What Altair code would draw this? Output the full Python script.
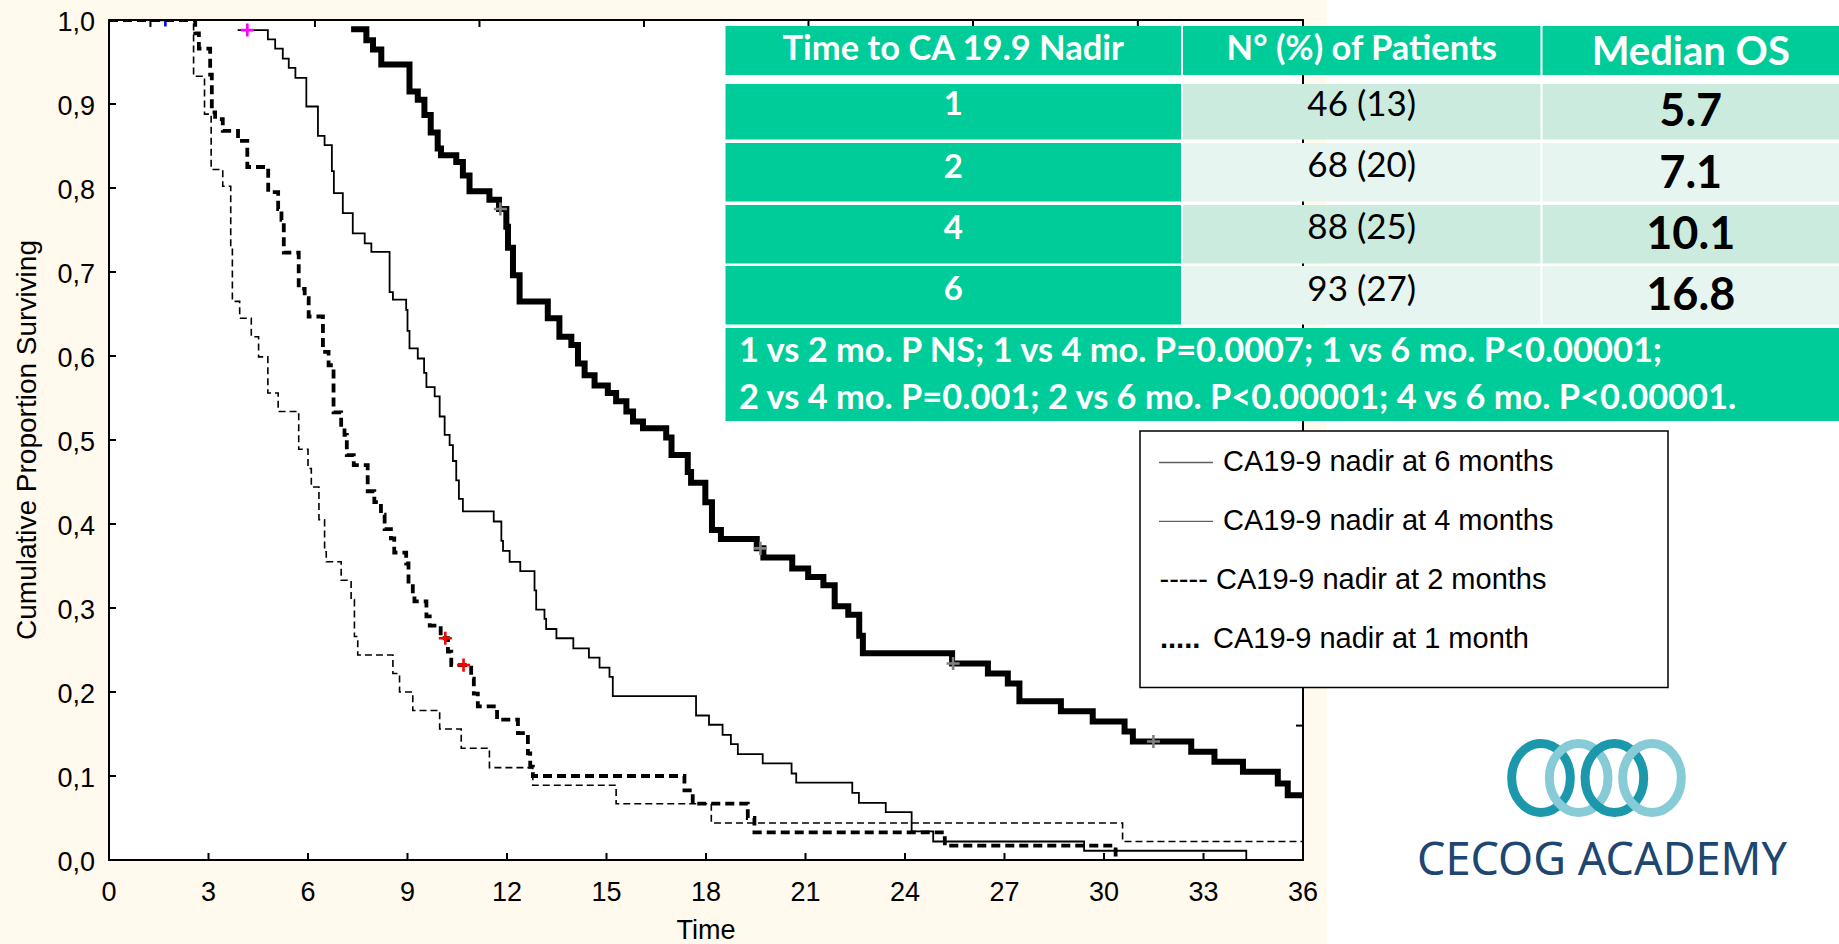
import altair as alt
import pandas as pd

# ---------------- data ----------------
# Kaplan-Meier curves: time (months) where the step starts, cumulative proportion surviving
t_6m = [7.30, 7.76, 7.96, 8.21, 9.06, 9.31, 9.51, 9.70, 9.91, 10.01, 10.47, 10.67, 10.87, 11.47, 11.76,
        11.98, 12.03, 12.18, 12.38, 13.23, 13.58, 13.94, 14.14, 14.34, 14.64, 15.04, 15.29, 15.60, 15.80,
        16.10, 16.80, 16.96, 17.45, 17.55, 17.98, 18.18, 18.45, 19.53, 19.73, 20.60, 21.08, 21.54, 21.88,
        22.29, 22.62, 22.73, 25.42, 26.50, 27.10, 27.45, 28.70, 29.66, 30.62, 30.87, 32.63, 33.33, 34.19,
        35.24, 35.54, 36.00]
s_6m = [0.989, 0.976, 0.965, 0.947, 0.915, 0.905, 0.887, 0.866, 0.847, 0.839, 0.831, 0.815, 0.796, 0.786, 0.775,
        0.754, 0.729, 0.696, 0.665, 0.645, 0.623, 0.613, 0.591, 0.577, 0.565, 0.556, 0.546, 0.534, 0.522,
        0.514, 0.503, 0.482, 0.462, 0.449, 0.426, 0.393, 0.382, 0.371, 0.360, 0.347, 0.337, 0.327, 0.302,
        0.292, 0.267, 0.246, 0.234, 0.222, 0.210, 0.189, 0.177, 0.165, 0.153, 0.141, 0.129, 0.117, 0.105,
        0.091, 0.077, 0.077]

t_4m = [3.88, 4.79, 5.01, 5.24, 5.42, 5.62, 5.95, 6.30, 6.50, 6.72, 6.78, 7.05, 7.35, 7.71, 7.91,
        8.46, 8.56, 8.96, 9.00, 9.06, 9.31, 9.50, 9.57, 9.82, 9.97, 10.12, 10.27, 10.37, 10.47, 10.55,
        10.67, 11.60, 11.83, 11.88, 12.08, 12.40, 12.83, 12.88, 13.13, 13.18, 13.49, 14.00, 14.47, 14.79,
        15.09, 15.19, 17.70, 18.09, 18.50, 18.75, 18.96, 19.71, 20.58, 20.72, 22.41, 22.61, 23.42, 24.20,
        24.85, 29.40, 34.29]
s_4m = [0.988, 0.977, 0.966, 0.954, 0.943, 0.931, 0.897, 0.862, 0.851, 0.820, 0.794, 0.770, 0.746, 0.734, 0.724,
        0.676, 0.667, 0.655, 0.630, 0.609, 0.597, 0.580, 0.563, 0.552, 0.528, 0.506, 0.494, 0.475, 0.452, 0.430,
        0.415, 0.403, 0.380, 0.368, 0.355, 0.344, 0.321, 0.298, 0.287, 0.275, 0.264, 0.252, 0.241, 0.229,
        0.218, 0.195, 0.172, 0.161, 0.149, 0.138, 0.126, 0.115, 0.103, 0.092, 0.080, 0.068, 0.057, 0.034,
        0.022, 0.011, 0.000]

t_2m = [0.00, 2.55, 2.88, 3.08, 3.43, 3.67, 3.72, 3.94, 4.29, 4.51, 4.79, 5.10, 5.72, 6.00, 6.10, 6.33,
        6.50, 6.55, 7.00, 7.30, 7.40, 7.50, 8.56, 8.76, 9.16, 9.97, 10.62, 11.47, 12.78, 15.29, 18.16,
        30.56, 36.00]
s_2m = [1.000, 0.933, 0.888, 0.822, 0.802, 0.730, 0.665, 0.645, 0.623, 0.599, 0.556, 0.534, 0.489, 0.466,
        0.444, 0.405, 0.367, 0.355, 0.333, 0.310, 0.266, 0.244, 0.222, 0.200, 0.178, 0.156, 0.133, 0.110,
        0.089, 0.067, 0.044, 0.022, 0.022]

t_1m = [0.00, 2.60, 2.71, 3.05, 3.10, 3.20, 3.43, 3.89, 4.17, 4.80, 5.10, 5.20, 5.27, 5.72, 5.90, 6.02,
        6.45, 6.62, 6.77, 7.00, 7.10, 7.17, 7.38, 7.80, 8.00, 8.20, 8.31, 8.50, 8.60, 8.96, 9.03, 9.16,
        9.21, 9.57, 9.67, 10.00, 10.22, 10.32, 10.92, 11.00, 11.12, 11.70, 12.33, 12.63, 12.70, 12.78,
        17.35, 17.60, 19.26, 19.46, 25.20, 30.35]
s_1m = [1.000, 0.984, 0.966, 0.935, 0.890, 0.882, 0.868, 0.856, 0.825, 0.795, 0.775, 0.762, 0.723, 0.680,
        0.669, 0.647, 0.605, 0.589, 0.533, 0.514, 0.506, 0.482, 0.470, 0.439, 0.426, 0.411, 0.394, 0.383,
        0.366, 0.353, 0.329, 0.315, 0.308, 0.290, 0.279, 0.264, 0.248, 0.232, 0.216, 0.198, 0.183, 0.167,
        0.151, 0.127, 0.111, 0.100, 0.083, 0.067, 0.050, 0.033, 0.017, 0.000]

# censored observations ("+")
censor_t = [11.80, 19.64, 25.45, 31.49, 10.14, 10.69, 4.17, 1.70]
censor_s = [0.775, 0.371, 0.234, 0.141, 0.264, 0.232, 0.988, 1.000]
censor_curve = ["6m", "6m", "6m", "6m", "1m", "1m", "4m", "2m"]

# axes
x_ticks = [0, 3, 6, 9, 12, 15, 18, 21, 24, 27, 30, 33, 36]
x_tick_labels = ["0", "3", "6", "9", "12", "15", "18", "21", "24", "27", "30", "33", "36"]
y_ticks = [0.0, 0.1, 0.2, 0.3, 0.4, 0.5, 0.6, 0.7, 0.8, 0.9, 1.0]
y_tick_labels = ["0,0", "0,1", "0,2", "0,3", "0,4", "0,5", "0,6", "0,7", "0,8", "0,9", "1,0"]
top_ticks = [1.25, 6.21, 11.17, 16.13, 21.09, 26.05, 31.02]
right_ticks = [0.16]
x_title = "Time"
y_title = "Cumulative Proportion Surviving"

# table
table_header = ["Time to CA 19.9 Nadir", "N° (%) of Patients", "Median OS"]
nadir_month = ["1", "2", "4", "6"]
patients = ["46 (13)", "68 (20)", "88 (25)", "93 (27)"]
median_os = ["5.7", "7.1", "10.1", "16.8"]
footnote = ["1 vs 2 mo. P NS; 1 vs 4 mo. P=0.0007; 1 vs 6 mo. P<0.00001;",
            "2 vs 4 mo. P=0.001; 2 vs 6 mo. P<0.00001; 4 vs 6 mo. P<0.00001."]

# legend
legend_labels = ["CA19-9 nadir at 6 months", "CA19-9 nadir at 4 months",
                 "CA19-9 nadir at 2 months", "CA19-9 nadir at 1 month"]
legend_marks = ["", "", "-----", "....."]
logo_text = "CECOG ACADEMY"

# ---------------- layout (page pixels) ----------------
PAGE_W, PAGE_H = 1839, 944
OX, OY = 109, 20
W, H = 1194, 840


def gx(x):
    return x - OX


def gy(y):
    return y - OY


xs = alt.Scale(domain=[0, 36], nice=False, zero=False)
ys = alt.Scale(domain=[0, 1], nice=False, zero=False)
one = pd.DataFrame({"k": [0]})
PX = dict(scale=None)


def box(x0, y0, x1, y1, **mk):
    return alt.Chart(one).mark_rect(**mk).encode(
        x=alt.value(gx(x0)), x2=alt.value(gx(x1)), y=alt.value(gy(y0)), y2=alt.value(gy(y1)))


layers = []
layers.append(box(0, 0, 1327, PAGE_H, color="#FFF9EE"))
layers.append(box(OX, OY, OX + W, OY + H, color="white"))


def km(t, s, **mk):
    df = pd.DataFrame({"t": t, "s": s})
    return alt.Chart(df).mark_line(interpolate="step-after", color="black", clip=True, **mk).encode(
        x=alt.X("t:Q", scale=xs, axis=None),
        y=alt.Y("s:Q", scale=ys, axis=None))


layers.append(km(t_2m, s_2m, strokeWidth=1.6, strokeDash=[7, 4]))
layers.append(km(t_1m, s_1m, strokeWidth=3.8, strokeDash=[9, 5]))
layers.append(km(t_4m, s_4m, strokeWidth=1.8))
layers.append(km(t_6m, s_6m, strokeWidth=6, strokeJoin="miter"))

censor_colors = {"6m": "#808080", "1m": "#FF0000", "4m": "#FF00FF", "2m": "#0000FF"}
cdf = pd.DataFrame({"t": censor_t, "s": censor_s, "c": [censor_colors[g] for g in censor_curve]})
layers.append(alt.Chart(cdf).mark_point(shape="M-1,0L1,0M0,-1L0,1", size=170, strokeWidth=2.6,
                                        filled=False, opacity=1, clip=True).encode(
    x=alt.X("t:Q", scale=xs, axis=None), y=alt.Y("s:Q", scale=ys, axis=None),
    color=alt.Color("c:N", scale=None)))

# inward tick marks
layers.append(alt.Chart(pd.DataFrame({"v": y_ticks[1:-1]})).mark_rule(color="black", strokeWidth=2).encode(
    y=alt.Y("v:Q", scale=ys, axis=None), x=alt.value(0), x2=alt.value(7)))
layers.append(alt.Chart(pd.DataFrame({"v": x_ticks[1:-1]})).mark_rule(color="black", strokeWidth=2).encode(
    x=alt.X("v:Q", scale=xs, axis=None), y=alt.value(H), y2=alt.value(H - 7)))
layers.append(alt.Chart(pd.DataFrame({"v": top_ticks})).mark_rule(color="black", strokeWidth=2).encode(
    x=alt.X("v:Q", scale=xs, axis=None), y=alt.value(0), y2=alt.value(7)))
layers.append(alt.Chart(pd.DataFrame({"v": right_ticks})).mark_rule(color="black", strokeWidth=2).encode(
    y=alt.Y("v:Q", scale=ys, axis=None), x=alt.value(W - 7), x2=alt.value(W)))

# frame
layers.append(box(OX, OY, OX + W, OY + H, filled=False, stroke="black", strokeWidth=2))

# tick labels (through the same scales)
xl = pd.DataFrame({"v": x_ticks, "lab": x_tick_labels})
layers.append(alt.Chart(xl).mark_text(font="Liberation Sans", fontSize=27, align="center",
                                      baseline="alphabetic", color="black").encode(
    x=alt.X("v:Q", scale=xs, axis=None), y=alt.value(gy(901)), text="lab:N"))
yl = pd.DataFrame({"v": y_ticks, "lab": y_tick_labels})
layers.append(alt.Chart(yl).mark_text(font="Liberation Sans", fontSize=27, align="right",
                                      baseline="alphabetic", color="black", dy=11).encode(
    y=alt.Y("v:Q", scale=ys, axis=None), x=alt.value(gx(95)), text="lab:N"))

# axis titles
layers.append(alt.Chart(one).mark_text(text=y_title, angle=270, font="Liberation Sans", fontSize=28,
                                       align="center", baseline="alphabetic", color="black").encode(
    x=alt.value(gx(35.5)), y=alt.value(gy(440))))
layers.append(alt.Chart(one).mark_text(text=x_title, font="Liberation Sans", fontSize=27,
                                       align="center", baseline="alphabetic", color="black").encode(
    x=alt.value(gx(706)), y=alt.value(gy(939))))

# ---------------- table ----------------
col_x = [(725.5, 1181.0), (1183.0, 1540.5), (1542.5, PAGE_W)]
row_y = [(26, 75), (84, 139.5), (143, 201.5), (205, 263.5), (266, 324.5)]
foot_y = (328, 421)
TEAL, LIGHT_A, LIGHT_B = "#00CC99", "#CCEBDF", "#E6F5EF"
cells = []
for c in range(3):
    cells.append(dict(x=col_x[c][0], x2=col_x[c][1], y=row_y[0][0], y2=row_y[0][1], f=TEAL))
for r in range(4):
    y0, y1 = row_y[r + 1]
    cells.append(dict(x=col_x[0][0], x2=col_x[0][1], y=y0, y2=y1, f=TEAL))
    light = LIGHT_A if r % 2 == 0 else LIGHT_B
    for c in (1, 2):
        cells.append(dict(x=col_x[c][0], x2=col_x[c][1], y=y0, y2=y1, f=light))
cells.append(dict(x=col_x[0][0], x2=PAGE_W, y=foot_y[0], y2=foot_y[1], f=TEAL))
cdf2 = pd.DataFrame(cells)
for k in ("x", "x2"):
    cdf2[k] = cdf2[k] - OX
for k in ("y", "y2"):
    cdf2[k] = cdf2[k] - OY
layers.append(alt.Chart(cdf2).mark_rect().encode(
    x=alt.X("x:Q", **PX), x2="x2:Q", y=alt.Y("y:Q", **PX), y2="y2:Q", color=alt.Color("f:N", scale=None)))

ccent = [(a + b) / 2 for a, b in col_x]
bold_rows = []
for c, (txt, base, fs) in enumerate(zip(table_header, [60, 60, 65], [34.5, 34.5, 40])):
    bold_rows.append(dict(x=ccent[c], y=base, t=txt, fs=fs, c="white"))
for txt, base in zip(nadir_month, [115, 178.3, 239.3, 300.3]):
    bold_rows.append(dict(x=ccent[0], y=base, t=txt, fs=33, c="white"))
for txt, base in zip(median_os, [126, 187.7, 249, 310]):
    bold_rows.append(dict(x=ccent[2], y=base, t=txt, fs=45, c="black"))
reg_rows = []
for txt, base in zip(patients, [116, 176.7, 239.3, 300.7]):
    reg_rows.append(dict(x=ccent[1], y=base, t=txt, fs=35, c="black"))
foot_rows = []
for txt, base in zip(footnote, [362, 408.5]):
    foot_rows.append(dict(x=739, y=base, t=txt, fs=34.4, c="white"))


def text_layer(rows, weight, align, font="Lato"):
    df = pd.DataFrame(rows)
    df["x"] = df["x"] - OX
    df["y"] = df["y"] - OY
    return alt.Chart(df).mark_text(font=font, fontWeight=weight, align=align, baseline="alphabetic").encode(
        x=alt.X("x:Q", **PX), y=alt.Y("y:Q", **PX), text="t:N",
        size=alt.Size("fs:Q", scale=None), color=alt.Color("c:N", scale=None))


layers.append(text_layer(bold_rows, "bold", "center"))
layers.append(text_layer(reg_rows, "normal", "center"))
layers.append(text_layer(foot_rows, "bold", "left"))

# ---------------- legend ----------------
layers.append(box(1140, 431, 1668, 687.5, color="white", stroke="black", strokeWidth=1.5))
leg_line = pd.DataFrame({"x": [1159 - OX] * 2, "x2": [1213 - OX] * 2, "y": [462.5 - OY, 521.4 - OY]})
layers.append(alt.Chart(leg_line).mark_rule(color="#606060", strokeWidth=1.4).encode(
    x=alt.X("x:Q", **PX), x2="x2:Q", y=alt.Y("y:Q", **PX)))
leg_rows = [dict(x=x, y=b, t=t, fs=29, c="black") for x, b, t in
            zip([1223, 1223, 1216, 1213], [471, 530, 589, 648], legend_labels)]
layers.append(text_layer(leg_rows, "normal", "left", font="Liberation Sans"))
mark_rows = [dict(x=1159.5, y=589, t=legend_marks[2], fs=29, c="black")]
layers.append(text_layer(mark_rows, "normal", "left", font="Liberation Sans"))
dot_rows = [dict(x=1160, y=648, t=legend_marks[3], fs=29, c="black")]
layers.append(text_layer(dot_rows, "bold", "left", font="Liberation Sans"))

# ---------------- logo ----------------
ELLIPSE = ("M0,-1C0.47,-1 0.85,-0.552 0.85,0C0.85,0.552 0.47,1 0,1"
           "C-0.47,1 -0.85,0.552 -0.85,0C-0.85,-0.552 -0.47,-1 0,-1Z")
rings = pd.DataFrame({"x": [1541 - OX, 1578.7 - OX, 1614.4 - OX, 1652 - OX],
                      "y": [778 - OY] * 4,
                      "c": ["#1B98AC", "#86CBD5", "#1B98AC", "#86CBD5"]})
layers.append(alt.Chart(rings).mark_point(shape=ELLIPSE, filled=False, strokeWidth=9, size=4761,
                                          opacity=1).encode(
    x=alt.X("x:Q", **PX), y=alt.Y("y:Q", **PX), color=alt.Color("c:N", scale=None)))
layers.append(alt.Chart(one).mark_text(text=logo_text, font="Noto Sans", fontSize=45, align="center",
                                       baseline="alphabetic", color="#1D4770").encode(
    x=alt.value(gx(1602)), y=alt.value(gy(875))))

chart = alt.layer(*layers).properties(
    width=W, height=H,
    padding={"left": OX, "top": OY, "right": PAGE_W - OX - W, "bottom": PAGE_H - OY - H},
    autosize=alt.AutoSizeParams(type="none"),
    background="white",
).configure_view(strokeWidth=0)

chart.save("out.html", embed_options={"renderer": "svg", "actions": False})
